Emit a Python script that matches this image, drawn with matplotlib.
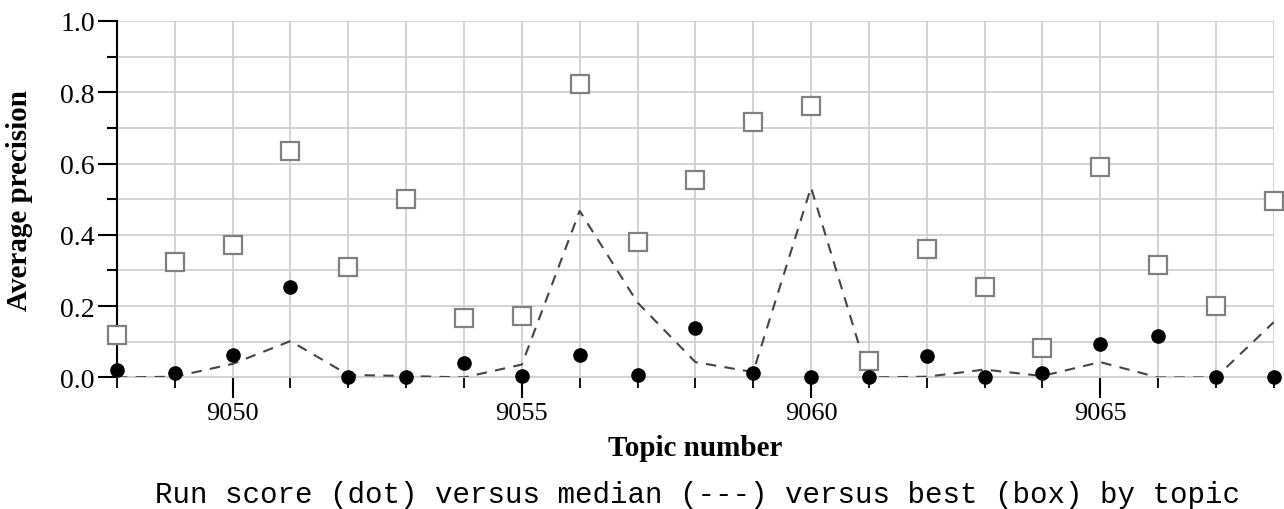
import numpy as np
import matplotlib
matplotlib.use("Agg")
import matplotlib.pyplot as plt
from matplotlib.ticker import MultipleLocator, FormatStrFormatter

# topic numbers and scores
topics = np.arange(9048, 9069)
run_score = [0.022, 0.011, 0.064, 0.255, 0.0, 0.0, 0.041, 0.003, 0.064, 0.006,
             0.138, 0.011, 0.0, 0.0, 0.060, 0.0, 0.013, 0.093, 0.115, 0.0, 0.0]
median = [0.0, 0.002, 0.038, 0.102, 0.007, 0.004, 0.0, 0.036, 0.467, 0.21,
          0.043, 0.015, 0.533, 0.0, 0.002, 0.022, 0.004, 0.043, 0.0, 0.0, 0.155]
best = [0.118, 0.323, 0.371, 0.634, 0.311, 0.500, 0.166, 0.171, 0.822, 0.381,
        0.555, 0.717, 0.761, 0.046, 0.360, 0.255, 0.082, 0.589, 0.316, 0.201, 0.494]

serif = "Liberation Serif"

fig = plt.figure(figsize=(12.84, 5.10), dpi=100)
ax = fig.add_axes([0.0911, 0.258, 0.9009, 0.699])

ax.plot(topics, median, linestyle=(0, (5, 4)), color="#444444", linewidth=1.5, zorder=3)
ax.plot(topics, best, linestyle="none", marker="s", markersize=13,
        markerfacecolor="white", markeredgecolor="#808080", markeredgewidth=1.6,
        clip_on=False, zorder=4)
ax.plot(topics, run_score, linestyle="none", marker="o", markersize=9.5,
        color="black", clip_on=False, zorder=5)

ax.set_xlim(9048, 9068)
ax.set_ylim(0, 1.0)

ax.xaxis.set_major_locator(MultipleLocator(5))
ax.xaxis.set_minor_locator(MultipleLocator(1))
ax.yaxis.set_major_locator(MultipleLocator(0.2))
ax.yaxis.set_minor_locator(MultipleLocator(0.1))
ax.yaxis.set_major_formatter(FormatStrFormatter("%.1f"))

ax.grid(True, which="both", color="#d0d0d0", linewidth=1.3)
ax.set_axisbelow(True)

for side in ["top", "right"]:
    ax.spines[side].set_visible(False)
ax.spines["bottom"].set_color("#d0d0d0")
ax.spines["bottom"].set_linewidth(1.3)
ax.spines["left"].set_color("black")
ax.spines["left"].set_linewidth(1.5)

ax.tick_params(axis="y", which="major", length=14, width=1.5, labelsize=20, pad=2)
ax.tick_params(axis="y", which="minor", length=7, width=1.5)
ax.tick_params(axis="x", which="major", length=15, width=1.5, labelsize=19, pad=3)
ax.tick_params(axis="x", which="minor", length=8, width=1.3)
for lab in ax.get_xticklabels() + ax.get_yticklabels():
    lab.set_fontfamily(serif)

ax.set_ylabel("Average precision", fontfamily=serif, fontweight="bold", fontsize=21)
ax.yaxis.set_label_coords(-0.073, 0.5)
ax.set_xlabel("Topic number", fontfamily=serif, fontweight="bold", fontsize=21)
ax.xaxis.set_label_coords(0.5, -0.160)

fig.text(0.5436, 0.03, "Run score (dot) versus median (---) versus best (box) by topic",
         ha="center", va="center", fontfamily="Liberation Mono", fontsize=21)

fig.savefig("out.png", dpi=100)
